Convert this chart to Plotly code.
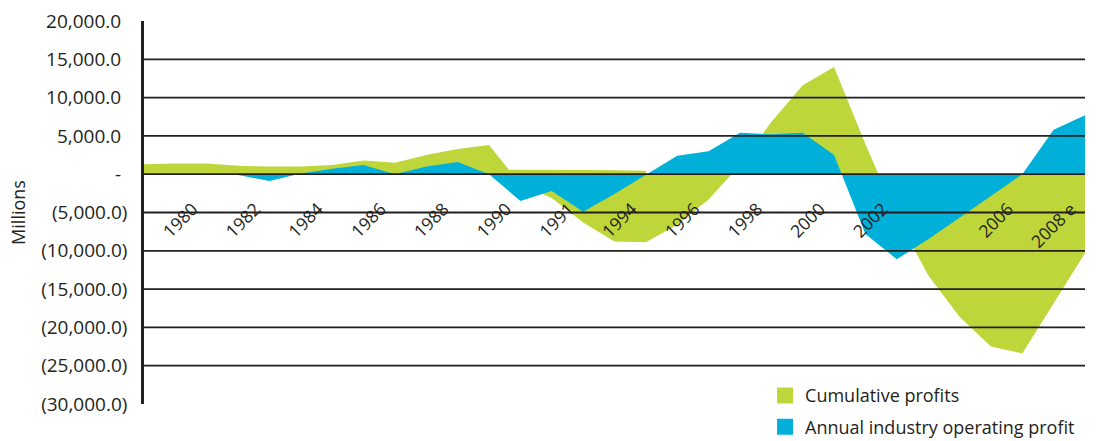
import plotly.graph_objects as go

# ---------------- data (values in millions) ----------------
categories = ["1978", "1979", "1980", "1981", "1982", "1983", "1984", "1985", "1986", "1987",
              "1988", "1989", "1990", "1991", "1992", "1993", "1994", "1995", "1996", "1997",
              "1998", "1999", "2000", "2001", "2002", "2003", "2004", "2005", "2006", "2007",
              "2008 e"]

tick_categories = categories[2::2]
tick_labels = ["1980", "1982", "1984", "1986", "1988", "1990", "1991", "1994", "1996",
               "1998", "2000", "2002", "", "2006", "2008 e"]

cumulative_profits = [1300, 1400, 1400, 1100, 1000, 1000, 1200, 1800, 1500, 2500,
                      3300, 3800, -1300, -3100, -6300, -8800, -8900, -6600, -3300, 1200,
                      6800, 11600, 14000, 3900, -5500, -13200, -18600, -22500, -23400, -16900,
                      -10300]

# thin positive sliver of the cumulative area drawn in the original graphic
cumulative_band = [None, None, None, None, None, None, None, None, None, None,
                   None, 600, 600, 600, 550, 500, 450, None, None, None,
                   None, None, None, None, None, None, None, None, None, None,
                   None]

annual_operating_profit = [0, 0, 0, -100, -900, 100, 700, 1200, 0, 1000,
                           1600, 0, -3500, -2200, -4900, -2600, -100, 2400, 3000, 5400,
                           5200, 5400, 2500, -7800, -11100, -8500, -5700, -2900, 0, 5800,
                           7700]

y_label_values = [20000, 15000, 10000, 5000, 0, -5000, -10000, -15000, -20000, -25000, -30000]
y_tick_mark_values = [15000, 10000, 5000, 0, -5000, -10000, -15000, -20000, -25000, -30000]
grid_values = [15000, 10000, 5000, 0, -5000, -10000, -15000, -20000, -25000]

GREEN = "#bed63a"
BLUE = "#00b0d8"
INK = "#231f20"


def fmt(v):
    if v > 0:
        return f"{v:,.1f}\u2004"
    if v < 0:
        return f"({-v:,.1f})"
    return "-\u2004"


fig = go.Figure()

fig.add_trace(go.Scatter(x=categories, y=cumulative_profits, mode="lines",
                         line=dict(width=0, color=GREEN), fill="tozeroy",
                         fillcolor=GREEN, showlegend=False, hoverinfo="skip"))
fig.add_trace(go.Scatter(x=categories, y=cumulative_band, mode="lines",
                         line=dict(width=0, color=GREEN), fill="tozeroy",
                         fillcolor=GREEN, showlegend=False, hoverinfo="skip"))
fig.add_trace(go.Scatter(x=categories, y=annual_operating_profit, mode="lines",
                         line=dict(width=0, color=BLUE), fill="tozeroy",
                         fillcolor=BLUE, showlegend=False, hoverinfo="skip"))

# legend entries (square swatches)
fig.add_trace(go.Scatter(x=[None], y=[None], mode="markers", name="Cumulative profits",
                         marker=dict(symbol="square", size=16, color=GREEN),
                         legendgroup="a"))
fig.add_trace(go.Scatter(x=[None], y=[None], mode="markers",
                         name="Annual industry operating profit",
                         marker=dict(symbol="square", size=16, color=BLUE),
                         legendgroup="b"))

for v in grid_values:
    fig.add_hline(y=v, line=dict(color=INK, width=1.8), layer="above")

fig.update_layout(
    width=1099, height=441,
    margin=dict(l=144, r=14, t=21, b=37, autoexpand=False),
    plot_bgcolor="white", paper_bgcolor="white",
    font=dict(family="Open Sans", size=18, color=INK),
    xaxis=dict(type="category", categoryorder="array", categoryarray=categories,
               range=[0, len(categories) - 1], anchor="free", position=0.547,
               tickmode="array", tickvals=tick_categories, ticktext=tick_labels,
               tickangle=-45, tickfont=dict(size=17.5, color=INK), ticklabelshift=-14,
               showgrid=False, showline=False, zeroline=False, ticks=""),
    yaxis=dict(range=[-30000, 20000], tickmode="array", tickvals=y_label_values,
               ticktext=[fmt(v) for v in y_label_values],
               tickfont=dict(size=19, color=INK), ticks="", ticklabelstandoff=10,
               showgrid=False, zeroline=False, showline=True, linecolor=INK, linewidth=2.5,
               title=dict(text="Millions", font=dict(size=18, color=INK), standoff=11)),
    yaxis2=dict(range=[-30000, 20000], overlaying="y", side="left", anchor="x",
                tickmode="array", tickvals=y_tick_mark_values, ticks="outside",
                ticklen=6, tickwidth=2, tickcolor=INK, showticklabels=False,
                showgrid=False, zeroline=False, showline=False),
    legend=dict(x=0.66, y=0.07, xanchor="left", yanchor="top",
                bgcolor="rgba(0,0,0,0)", font=dict(size=18, color=INK),
                traceorder="grouped", tracegroupgap=5),
)

fig.write_html("out.html")
